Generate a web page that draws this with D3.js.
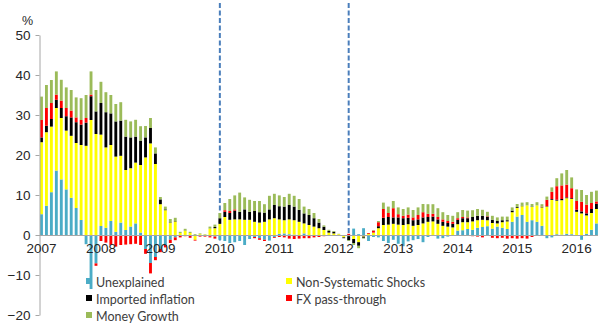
<!DOCTYPE html>
<html>
<head>
<meta charset="utf-8">
<script src="https://cdn.jsdelivr.net/npm/d3@7/dist/d3.min.js"></script>
<style>
  html, body { margin: 0; padding: 0; background: #fff; }
  svg { display: block; }
</style>
</head>
<body>
<svg id="chart" width="598" height="324"></svg>
<script>
// Monthly decomposition of inflation, Jan 2007 – May 2016 (percentage points)
const months = d3.timeMonths(new Date(2007, 0, 1), new Date(2016, 5, 1)).map(d3.timeFormat("%Y-%m"));

const unexplained = [
  5.2, 7.3, 10.7, 16.1, 13.9, 11.4, 9.3, 6.75, 3.75, -2.3, -13.5, -7.1,
  2.25, 1.8, 3.5, 0.8, 3.1, 1.25, 2.1, 2.9, 0.6, -3.5, -7.0, -5.5,
  -3.5, -2.5, -1.2, -0.6, -0.2, 0, -0.2, 0, 0, -0.2, -0.3, -0.4,
  -1.2, -1.5, -2.0, -1.8, -1.5, -2.5, -1.0, -0.5, -0.8, -1.2, -1.4, -0.5,
  0.3, 0.4, 0.2, 0.1, 0, 0.4, 0, 0, 0, 0, 0, 0,
  0, 0, 0, 1.6, 0.2, 1.7, -1.5, -0.5, -0.6, -1.5, -2.0, -1.2,
  -2.2, -2.8, -1.6, -1.3, -1.0, -1.8, -0.5, 0, -0.9, -0.8, -0.4, 0,
  1.1, 1.2, 1.5, 1.3, 1.8, 2.0, 2.2, 1.6, 2.1, 1.8, 1.5, 3.3,
  4.6, 5.0, 3.3, 3.7, 3.3, 2.3, -0.8, -0.6, 0.2, 0.1, 0.3, 0.2,
  0, -1.2, 0.3, 1.3, 2.9
];
const nonSystematic = [
  18.0, 18.4, 16.4, 15.65, 15.35, 14.7, 15.5, 16.25, 18.75, 22.3, 28.75, 25.25,
  22.85, 20.1, 19.0, 18.8, 16.7, 15.0, 14.6, 15.2, 16.9, 19.4, 22.9, 17.75,
  7.7, 6.2, 3.1, 3.4, 0.5, 1.1, 0.5, -1.2, 0.2, 0.1, 1.6, 1.7,
  2.8, 4.5, 3.8, 3.9, 3.9, 3.8, 3.8, 3.3, 3.1, 3.3, 3.9, 4.2,
  3.6, 3.3, 3.7, 3.6, 3.3, 2.5, 2.5, 2.1, 1.7, 1.25, 0.6, 0.4,
  0.2, -0.6, -0.3, -1.0, -1.8, -0.4, 0.3, 0.6, 1.7, 2.5, 2.6, 2.8,
  2.6, 2.5, 2.7, 2.3, 2.5, 2.9, 3.3, 3.4, 2.8, 2.3, 2.1, 1.9,
  1.6, 2.0, 1.7, 2.1, 1.9, 1.8, 1.5, 1.4, 0.8, 1.4, 1.9, 2.4,
  2.2, 2.2, 4.1, 3.3, 4.1, 4.6, 7.1, 8.8, 8.4, 8.6, 8.9, 8.8,
  5.8, 5.4, 4.6, 4.2, 3.6
];
const importedInflation = [
  1.2, 1.6, 1.9, 2.05, 2.5, 3.6, 4.6, 5.2, 5.1, 5.8, 5.95, 5.65,
  7.9, 8.8, 7.9, 8.8, 8.8, 8.35, 7.7, 6.5, 6.1, 5.0, 3.85, 2.65,
  1.2, 0.2, 0.1, 0.1, 0, 0.05, 0, 0, 0, 0, 0, 0.3,
  1.4, 1.3, 1.7, 2.2, 1.9, 2.6, 2.0, 2.7, 2.6, 2.3, 2.5, 3.3,
  3.3, 3.4, 3.6, 3.4, 3.0, 2.5, 2.5, 2.1, 1.4, 0.8, 0.4, 0.4,
  0, -0.2, -1.0, -1.0, -0.9, -0.3, 0, 0, 0.5, 1.8, 1.9, 1.6,
  1.8, 1.7, 1.6, 1.4, 1.4, 1.5, 1.2, 1.2, 1.1, 1.0, 0.9, 0.9,
  1.1, 1.0, 1.0, 1.1, 1.1, 1.0, 0.9, 0.8, 0.6, 0.5, 0.3, 0.4,
  0.2, 0.1, 0, 0.1, 0, 0.1, 0.1, 0.2, 0.2, 0.3, 0.2, 0.2,
  0.5, 0.5, 0.5, 1.0, 1.3
];
const fxPassThrough = [
  4.35, 4.45, 4.0, 1.3, 1.85, 2.05, 1.7, 1.2, 1.15, 1.15, 0.4, -0.6,
  -1.5, -1.9, -2.5, -2.9, -2.5, -2.4, -2.3, -2.2, -2.5, -1.2, -2.6, -0.8,
  -0.8, -0.6, -0.8, -0.7, -0.4, -0.3, -0.5, -0.2, -0.4, -0.2, -0.3, -0.5,
  0, 0.4, 0.5, 0.3, 0, 0, 0, -0.3, -0.4, -0.3, 0, -0.2,
  -0.5, -0.6, -0.9, -1.0, -0.9, -0.8, -0.8, -0.6, -0.5, -0.3, -0.2, -0.1,
  -0.1, 0, 0.3, 0, 0, 0, 0.2, 0.5, 1.0, 2.2, 1.0, 2.3,
  0.8, 0.6, 0.8, 0.7, 1.1, 1.3, 0.8, 0.7, 0.6, 0.6, 0.5, 0.5,
  0.4, 0.3, 0.2, -0.3, -0.4, -0.6, 0.1, -0.7, -0.8, -0.7, -0.9, -0.8,
  -0.9, -0.8, -0.9, -0.5, 0, 0.1, 1.6, 1.8, 3.4, 3.4, 3.2, 2.5,
  2.2, 2.4, 2.2, 1.5, 0.6
];
const moneyGrowth = [
  5.85, 5.75, 5.75, 5.8, 5.2, 5.15, 5.15, 5.0, 5.45, 5.75, 5.8, 5.35,
  5.3, 5.0, 4.6, 4.35, 4.6, 4.2, 4.0, 4.2, 3.6, 2.85, 2.5, 1.5,
  0.6, 0.7, 0.8, 0.8, 0.3, 0.4, 0.3, 0.2, 0.2, 0.1, 0.5, 0.6,
  1.3, 1.8, 3.0, 3.5, 4.8, 3.0, 3.0, 2.5, 2.8, 2.1, 3.4, 2.8,
  2.7, 2.4, 2.8, 2.7, 2.7, 1.7, 1.5, 1.3, 0.9, 0.35, 0.3, 0.2,
  0.1, 0, -0.2, -0.5, -0.6, -0.2, 0, 0.1, 0.3, 1.6, 1.6, 1.8,
  1.7, 1.7, 1.8, 1.85, 1.9, 2.05, 2.4, 2.4, 2.2, 1.8, 1.5, 1.5,
  1.5, 1.75, 1.7, 1.7, 1.7, 1.5, 1.1, 1.0, 0.9, 0.9, 0.9, 0.8,
  0.75, 0.8, 0.8, 0.65, 0.8, 0.6, 0.8, 1.1, 2.0, 3.0, 3.65, 2.7,
  2.9, 2.95, 2.4, 2.8, 2.7
];

const seriesNames = ["Unexplained", "Non-Systematic Shocks", "Imported inflation", "FX pass-through", "Money Growth"];
const seriesColors = ["#4bacc6", "#ffff00", "#000000", "#ff0000", "#9bbb59"];
const seriesValues = [unexplained, nonSystematic, importedInflation, fxPassThrough, moneyGrowth];

const yTicks = [-20, -10, 0, 10, 20, 30, 40, 50];
const yearLabels = ["2007", "2008", "2009", "2010", "2011", "2012", "2013", "2014", "2015", "2016"];
const eventMonths = ["2010-01", "2012-03"];

// table for the stack
const table = months.map((m, i) => {
  const row = { month: m };
  seriesNames.forEach((s, k) => { row[s] = seriesValues[k][i]; });
  return row;
});

const svg = d3.select("#chart");
const plotLeft = 39, plotRight = 39 + months.length * 4.955;

const x = d3.scaleBand()
  .domain(months)
  .range([plotLeft, plotRight])
  .paddingInner(0.42)
  .paddingOuter(0.21);

const y = d3.scaleLinear().domain([-20, 50]).range([315, 35]);

const stack = d3.stack()
  .keys(seriesNames)
  .offset(d3.stackOffsetDiverging);
const layers = stack(table);

const color = d3.scaleOrdinal().domain(seriesNames).range(seriesColors);

// event markers
svg.append("g")
  .selectAll("line")
  .data(eventMonths)
  .join("line")
  .attr("x1", d => x(d) + x.bandwidth() / 2)
  .attr("x2", d => x(d) + x.bandwidth() / 2)
  .attr("y1", 3)
  .attr("y2", 241)
  .attr("stroke", "#4a7ebb")
  .attr("stroke-width", 2)
  .attr("stroke-dasharray", "5,2.5");

// stacked bars
svg.append("g")
  .selectAll("g")
  .data(layers)
  .join("g")
  .attr("fill", d => color(d.key))
  .selectAll("rect")
  .data(d => d)
  .join("rect")
  .attr("x", d => x(d.data.month))
  .attr("width", x.bandwidth())
  .attr("y", d => y(Math.max(d[0], d[1])))
  .attr("height", d => Math.abs(y(d[0]) - y(d[1])));

// y axis
const yAxis = svg.append("g")
  .attr("transform", `translate(${plotLeft + 0.5},0)`)
  .call(d3.axisLeft(y).tickValues(yTicks).tickSize(4).tickSizeOuter(0).tickPadding(5));
yAxis.select(".domain").attr("stroke", "#a6a6a6");
yAxis.selectAll(".tick line").attr("stroke", "#a6a6a6");
yAxis.selectAll("text")
  .attr("fill", "#262626")
  .style("font-family", "'Liberation Sans', Arial, sans-serif")
  .style("font-size", "13.5px");

// x axis along zero
const januaries = months.filter(m => m.endsWith("-01"));
const xAxis = svg.append("g")
  .attr("transform", `translate(0,${y(0)})`)
  .call(d3.axisBottom(x).tickValues(januaries).tickSize(0).tickPadding(8)
    .tickFormat((m, i) => yearLabels[i]));
xAxis.select(".domain").remove();
xAxis.append("line")
  .attr("x1", plotLeft).attr("x2", plotRight)
  .attr("y1", 0.5).attr("y2", 0.5)
  .attr("stroke", "#a6a6a6");
xAxis.selectAll("text")
  .attr("fill", "#262626")
  .style("font-family", "'Liberation Sans', Arial, sans-serif")
  .style("font-size", "13.5px");

// unit label
svg.append("text")
  .attr("x", 27.5).attr("y", 25)
  .attr("text-anchor", "middle")
  .attr("fill", "#262626")
  .style("font-family", "'Liberation Sans', Arial, sans-serif")
  .style("font-size", "12.5px")
  .text("%");

// legend, two columns
const legend = svg.append("g")
  .selectAll("g")
  .data(seriesNames)
  .join("g")
  .attr("transform", (d, i) => `translate(${86 + (i % 2) * 200},${278 + Math.floor(i / 2) * 17})`);
legend.append("rect")
  .attr("width", 6).attr("height", 6)
  .attr("fill", d => color(d));
legend.append("text")
  .attr("x", 10).attr("y", 9)
  .attr("fill", "#404040")
  .style("font-family", "Lato, 'Open Sans', sans-serif")
  .style("font-size", "12.5px")
  .text(d => d);
</script>
</body>
</html>
